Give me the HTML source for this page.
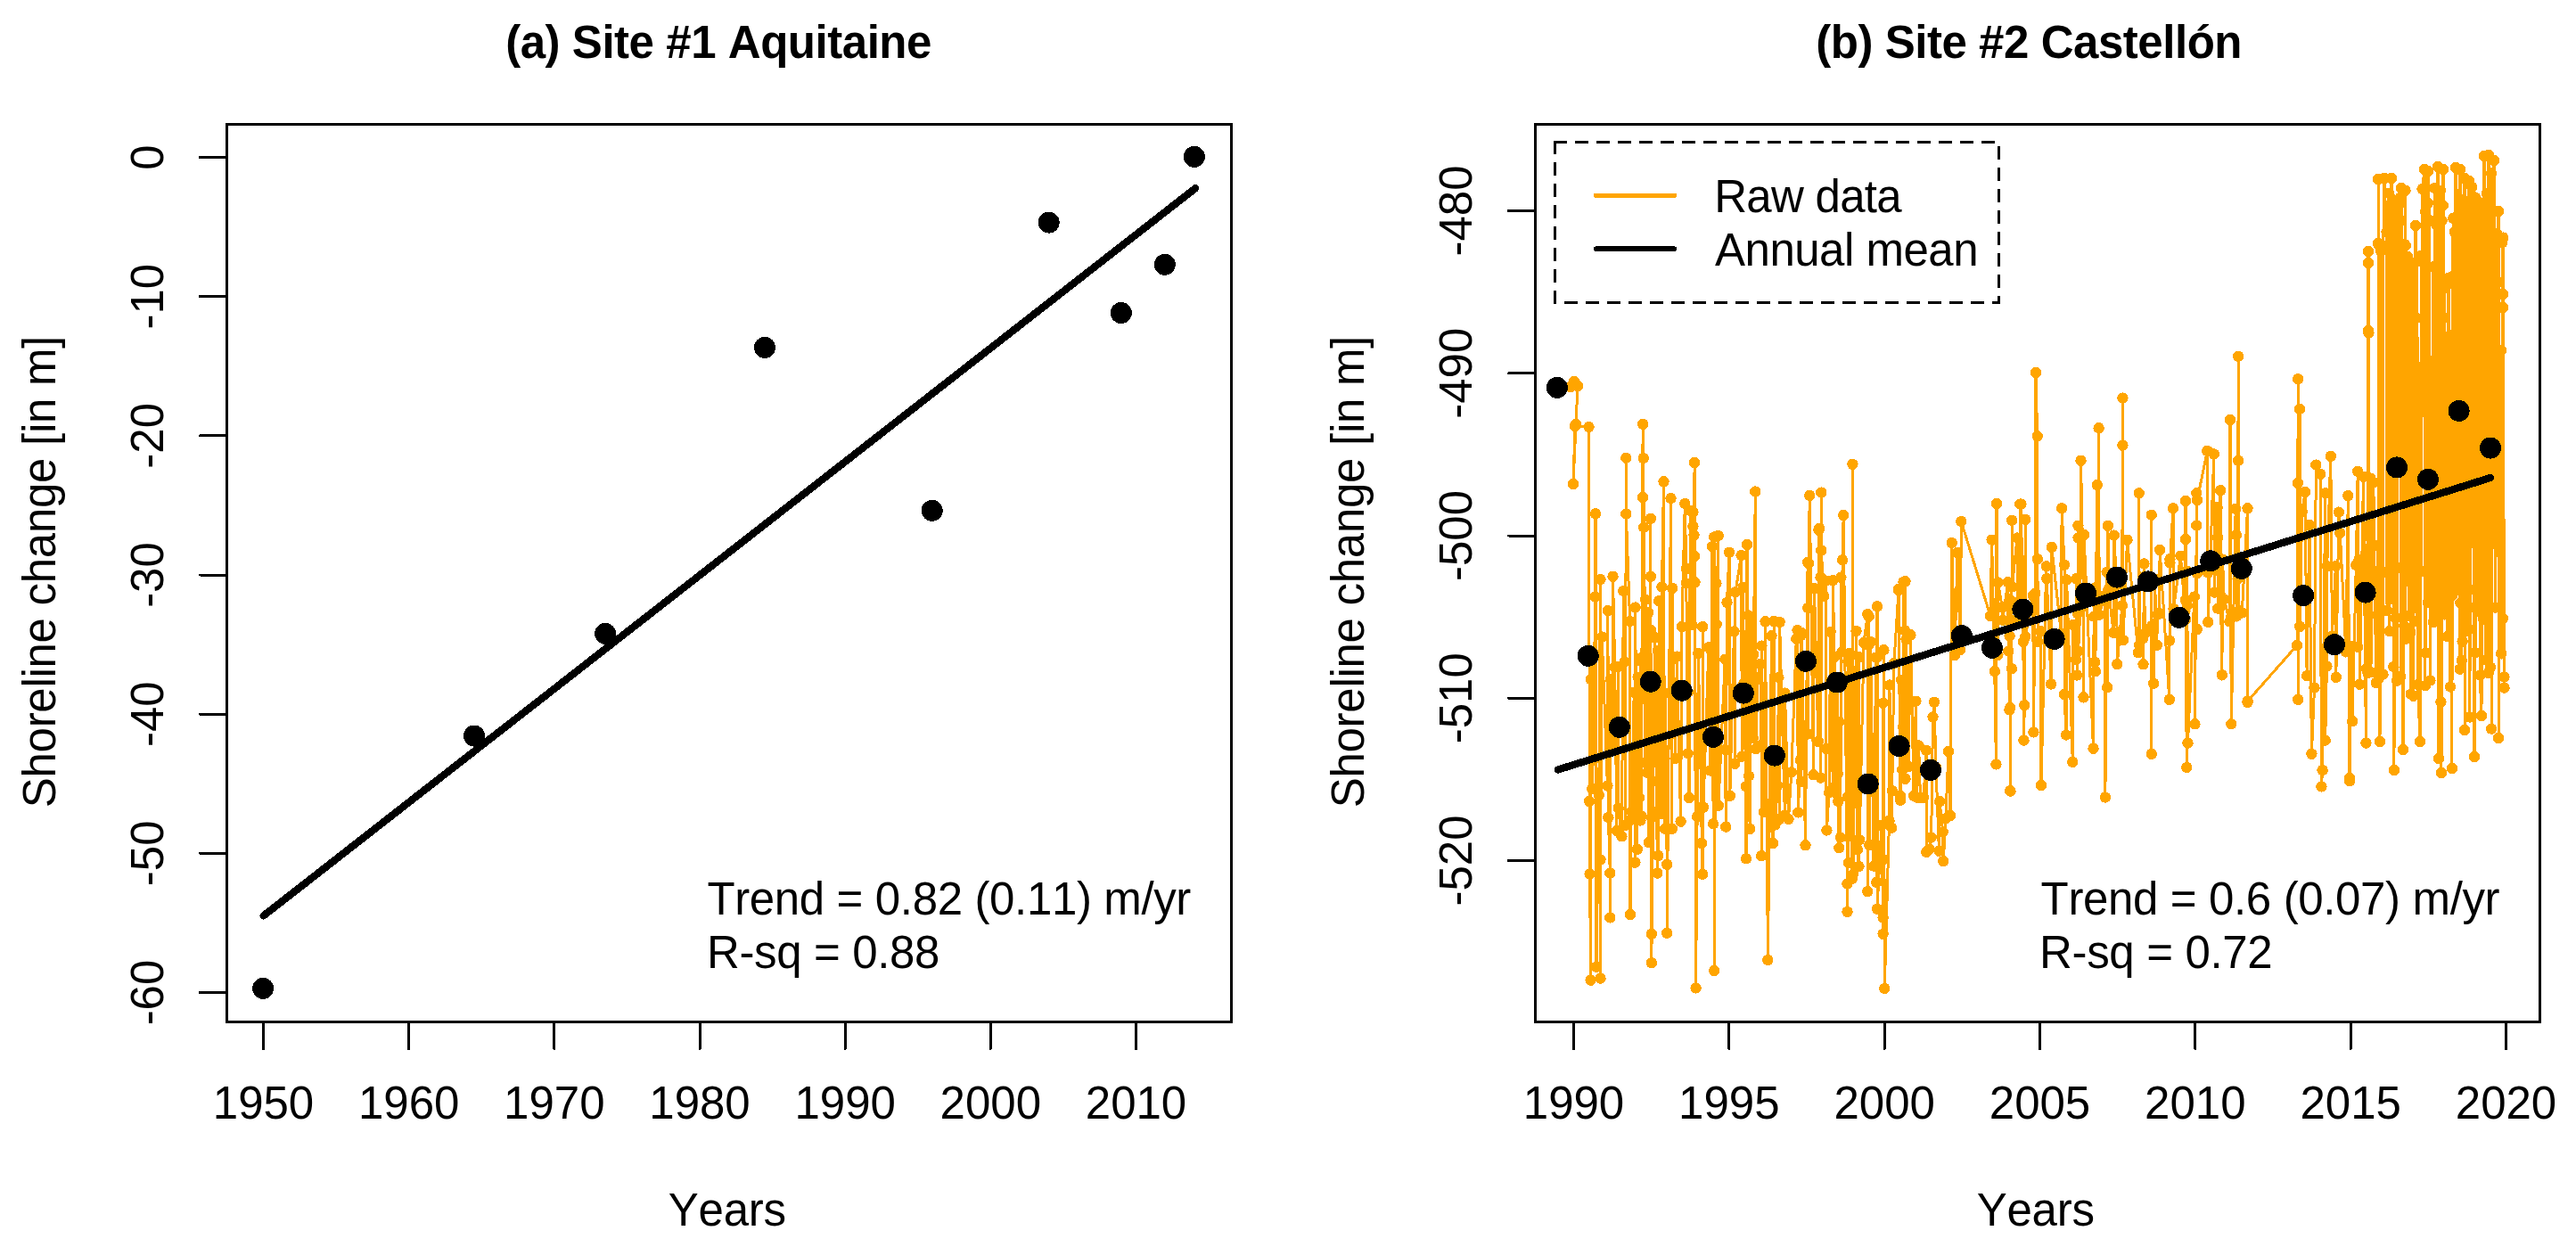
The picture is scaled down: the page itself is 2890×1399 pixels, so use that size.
<!DOCTYPE html>
<html><head><meta charset="utf-8"><style>
html,body{margin:0;padding:0;background:#fff;overflow:hidden}
svg{display:block}
line,path,circle,rect{shape-rendering:crispEdges}
text{font-family:"Liberation Sans", sans-serif;fill:#000;font-kerning:none}
</style></head><body>
<svg width="2890" height="1399" viewBox="0 0 2890 1399">
<rect width="2890" height="1399" fill="#fff"/>
<rect x="254.5" y="139.5" width="1127.0" height="1007.0" fill="none" stroke="#000" stroke-width="3"/>
<line x1="295.50" y1="1146.50" x2="295.50" y2="1176.50" stroke="#000" stroke-width="3" stroke-linecap="round" />
<text x="295.50" y="1255.20" text-anchor="middle" font-weight="normal" font-size="51">1950</text>
<line x1="458.67" y1="1146.50" x2="458.67" y2="1176.50" stroke="#000" stroke-width="3" stroke-linecap="round" />
<text x="458.67" y="1255.20" text-anchor="middle" font-weight="normal" font-size="51">1960</text>
<line x1="621.83" y1="1146.50" x2="621.83" y2="1176.50" stroke="#000" stroke-width="3" stroke-linecap="round" />
<text x="621.83" y="1255.20" text-anchor="middle" font-weight="normal" font-size="51">1970</text>
<line x1="785.00" y1="1146.50" x2="785.00" y2="1176.50" stroke="#000" stroke-width="3" stroke-linecap="round" />
<text x="785.00" y="1255.20" text-anchor="middle" font-weight="normal" font-size="51">1980</text>
<line x1="948.17" y1="1146.50" x2="948.17" y2="1176.50" stroke="#000" stroke-width="3" stroke-linecap="round" />
<text x="948.17" y="1255.20" text-anchor="middle" font-weight="normal" font-size="51">1990</text>
<line x1="1111.34" y1="1146.50" x2="1111.34" y2="1176.50" stroke="#000" stroke-width="3" stroke-linecap="round" />
<text x="1111.34" y="1255.20" text-anchor="middle" font-weight="normal" font-size="51">2000</text>
<line x1="1274.50" y1="1146.50" x2="1274.50" y2="1176.50" stroke="#000" stroke-width="3" stroke-linecap="round" />
<text x="1274.50" y="1255.20" text-anchor="middle" font-weight="normal" font-size="51">2010</text>
<line x1="254.50" y1="176.50" x2="224.50" y2="176.50" stroke="#000" stroke-width="3" stroke-linecap="round" />
<text x="183.00" y="176.50" text-anchor="middle" font-weight="normal" font-size="51" transform="rotate(-90 183.00 176.50)">0</text>
<line x1="254.50" y1="332.67" x2="224.50" y2="332.67" stroke="#000" stroke-width="3" stroke-linecap="round" />
<text x="183.00" y="332.67" text-anchor="middle" font-weight="normal" font-size="51" transform="rotate(-90 183.00 332.67)">-10</text>
<line x1="254.50" y1="488.83" x2="224.50" y2="488.83" stroke="#000" stroke-width="3" stroke-linecap="round" />
<text x="183.00" y="488.83" text-anchor="middle" font-weight="normal" font-size="51" transform="rotate(-90 183.00 488.83)">-20</text>
<line x1="254.50" y1="645.00" x2="224.50" y2="645.00" stroke="#000" stroke-width="3" stroke-linecap="round" />
<text x="183.00" y="645.00" text-anchor="middle" font-weight="normal" font-size="51" transform="rotate(-90 183.00 645.00)">-30</text>
<line x1="254.50" y1="801.17" x2="224.50" y2="801.17" stroke="#000" stroke-width="3" stroke-linecap="round" />
<text x="183.00" y="801.17" text-anchor="middle" font-weight="normal" font-size="51" transform="rotate(-90 183.00 801.17)">-40</text>
<line x1="254.50" y1="957.34" x2="224.50" y2="957.34" stroke="#000" stroke-width="3" stroke-linecap="round" />
<text x="183.00" y="957.34" text-anchor="middle" font-weight="normal" font-size="51" transform="rotate(-90 183.00 957.34)">-50</text>
<line x1="254.50" y1="1113.50" x2="224.50" y2="1113.50" stroke="#000" stroke-width="3" stroke-linecap="round" />
<text x="183.00" y="1113.50" text-anchor="middle" font-weight="normal" font-size="51" transform="rotate(-90 183.00 1113.50)">-60</text>
<line x1="295.50" y1="1027.50" x2="1341.00" y2="211.30" stroke="#000" stroke-width="8.3" stroke-linecap="round" />
<circle cx="295.1" cy="1108.9" r="12" fill="#000"/>
<circle cx="532" cy="825.6" r="12" fill="#000"/>
<circle cx="679.1" cy="710.9" r="12" fill="#000"/>
<circle cx="858" cy="389.9" r="12" fill="#000"/>
<circle cx="1045.7" cy="572.8" r="12" fill="#000"/>
<circle cx="1176.7" cy="249.6" r="12" fill="#000"/>
<circle cx="1257.8" cy="351" r="12" fill="#000"/>
<circle cx="1306.8" cy="296.8" r="12" fill="#000"/>
<circle cx="1339.9" cy="175.9" r="12" fill="#000"/>
<path d="M1762.0,434.0 L1766.0,428.0 L1770.0,433.0 L1768.0,476.0 L1765.0,543.0 L1767.0,478.0 L1782.5,479.0 L1783.0,730.0 L1783.1,898.9 L1783.6,980.7 L1784.6,1099.7 L1784.8,762.1 L1786.4,885.1 L1787.0,731.3 L1787.5,853.0 L1789.6,669.5 L1790.0,576.4 L1791.0,1084.6 L1793.8,892.0 L1795.5,650.0 L1795.5,1097.6 L1795.5,964.4 L1797.2,714.5 L1803.4,881.5 L1803.9,685.1 L1804.4,917.1 L1806.3,979.6 L1806.3,1029.4 L1806.9,762.2 L1809.3,833.9 L1809.5,646.8 L1811.7,748.5 L1813.9,932.0 L1815.6,748.0 L1815.7,906.7 L1819.4,938.3 L1821.4,663.0 L1822.7,742.6 L1823.4,926.2 L1824.3,513.7 L1824.3,576.4 L1828.6,697.0 L1829.0,1026.0 L1829.0,920.0 L1830.6,910.3 L1833.2,776.9 L1834.0,904.3 L1834.4,967.7 L1834.6,681.5 L1836.9,952.7 L1837.6,759.7 L1839.0,895.1 L1840.2,741.6 L1840.3,738.4 L1840.4,920.5 L1841.6,915.6 L1843.1,475.8 L1843.1,558.0 L1843.7,514.0 L1844.2,591.6 L1845.9,729.7 L1846.0,855.6 L1846.0,672.6 L1848.0,866.8 L1849.2,687.2 L1849.7,945.2 L1851.8,581.9 L1851.8,646.8 L1851.9,706.7 L1852.8,917.0 L1852.8,1047.8 L1852.8,1080.3 L1856.5,715.3 L1858.5,876.5 L1859.3,979.6 L1860.0,730.0 L1860.4,960.0 L1861.2,674.2 L1861.2,909.4 L1864.0,913.2 L1864.5,658.6 L1866.5,540.3 L1867.2,841.5 L1868.0,929.8 L1868.1,777.7 L1870.2,969.8 L1870.2,1046.7 L1874.5,559.1 L1875.9,929.8 L1876.2,659.8 L1877.0,738.9 L1879.5,850.8 L1881.4,736.6 L1885.6,921.7 L1886.9,703.1 L1890.3,565.0 L1891.8,638.0 L1891.8,654.4 L1893.7,845.3 L1893.9,776.6 L1895.0,895.1 L1896.4,572.8 L1898.5,701.2 L1899.4,574.3 L1899.4,590.5 L1900.5,600.3 L1901.1,519.0 L1901.1,624.0 L1901.5,653.3 L1902.6,1108.4 L1904.1,916.2 L1905.3,733.2 L1908.9,905.5 L1909.1,946.0 L1910.2,980.7 L1910.2,703.1 L1911.0,905.7 L1916.9,726.4 L1918.7,864.5 L1920.1,730.6 L1920.5,864.3 L1921.0,613.2 L1922.1,924.4 L1923.2,602.4 L1923.2,1089.0 L1925.4,654.4 L1925.7,700.3 L1927.7,601.0 L1927.9,903.9 L1935.3,739.7 L1935.7,841.1 L1936.2,927.6 L1937.5,675.9 L1940.0,619.7 L1940.8,892.8 L1945.5,708.4 L1946.3,856.9 L1947.0,664.3 L1953.5,623.0 L1954.4,848.7 L1955.7,658.7 L1956.4,766.5 L1958.9,882.4 L1959.0,963.4 L1960.0,611.0 L1961.5,742.7 L1961.9,690.5 L1961.9,870.5 L1963.2,929.9 L1964.0,699.7 L1966.7,827.9 L1967.3,734.3 L1969.3,551.5 L1969.7,840.2 L1972.3,759.9 L1974.7,744.8 L1976.1,836.0 L1976.2,960.1 L1976.4,724.6 L1979.0,911.1 L1980.5,697.2 L1983.4,1077.0 L1987.5,713.2 L1987.9,921.5 L1989.2,946.0 L1990.2,697.0 L1991.4,925.5 L1994.3,881.3 L1995.4,760.0 L1996.5,919.0 L1996.6,698.0 L2002.4,914.5 L2002.5,777.6 L2006.5,919.0 L2009.8,866.4 L2015.3,716.7 L2016.5,707.0 L2017.3,911.4 L2019.8,852.9 L2020.1,713.2 L2020.9,876.8 L2021.3,710.2 L2025.5,948.2 L2028.1,630.6 L2028.3,823.4 L2028.4,682.1 L2029.0,632.2 L2030.3,555.9 L2032.8,741.6 L2034.5,869.2 L2035.5,660.2 L2039.9,831.8 L2040.4,594.7 L2041.1,592.7 L2042.5,647.8 L2042.9,872.6 L2043.3,552.6 L2043.3,617.6 L2046.3,668.7 L2048.6,651.6 L2048.6,839.9 L2049.4,931.5 L2052.1,889.2 L2053.6,708.9 L2056.3,884.2 L2056.3,651.1 L2058.0,737.2 L2058.1,765.7 L2058.5,889.1 L2061.3,763.9 L2061.7,867.8 L2062.4,899.0 L2063.3,951.3 L2063.4,809.9 L2064.9,939.6 L2065.4,647.9 L2066.4,731.3 L2067.1,628.4 L2068.2,578.0 L2072.5,991.5 L2072.5,1022.9 L2072.7,894.2 L2073.3,741.9 L2073.9,967.9 L2075.1,732.9 L2078.0,985.6 L2078.4,520.8 L2079.1,980.6 L2082.5,707.9 L2083.4,942.8 L2083.9,953.1 L2085.5,972.0 L2085.7,737.3 L2086.2,942.3 L2091.0,721.0 L2095.3,689.2 L2095.3,1000.2 L2096.3,723.9 L2096.7,691.7 L2097.3,948.0 L2098.6,720.1 L2102.1,971.6 L2104.6,737.6 L2105.4,989.9 L2105.9,737.6 L2106.0,680.4 L2106.0,1019.6 L2110.9,925.9 L2112.6,1029.4 L2112.6,1047.8 L2112.6,788.8 L2113.1,964.3 L2113.4,729.2 L2114.3,1109.0 L2119.5,920.7 L2119.9,768.6 L2122.3,928.7 L2122.7,887.2 L2124.9,744.2 L2130.0,662.0 L2130.0,661.0 L2132.0,893.0 L2132.2,897.7 L2133.2,762.9 L2134.2,863.5 L2135.2,815.2 L2135.5,652.9 L2137.1,707.5 L2137.5,652.2 L2137.5,873.7 L2138.5,717.4 L2141.1,860.1 L2143.4,712.3 L2147.1,892.7 L2149.4,786.7 L2150.6,894.6 L2152.6,836.4 L2154.5,894.7 L2158.1,894.6 L2161.1,841.7 L2161.3,955.8 L2164.7,952.6 L2166.7,939.5 L2168.5,804.4 L2170.0,787.7 L2172.0,861.2 L2175.4,954.7 L2176.1,899.2 L2179.7,933.4 L2180.3,966.2 L2182.8,918.4 L2186.0,843.0 L2188.0,915.0 L2189.7,609.0 L2193.0,735.0 L2196.0,620.0 L2199.3,729.0 L2200.3,585.0 L2233.0,691.0 L2234.6,605.7 L2237.8,753.2 L2239.4,857.4 L2240.0,565.0 L2241.4,734.9 L2241.7,653.5 L2246.2,681.4 L2246.8,695.7 L2252.7,653.1 L2253.3,730.4 L2254.4,796.4 L2254.6,713.5 L2254.9,672.6 L2255.0,675.7 L2255.2,887.2 L2255.2,794.0 L2255.5,887.6 L2255.8,700.9 L2256.9,750.4 L2257.1,583.7 L2257.5,658.3 L2263.0,603.5 L2263.6,693.5 L2265.7,692.9 L2266.3,565.6 L2266.8,672.6 L2267.4,565.5 L2269.9,719.9 L2270.5,830.6 L2271.3,791.1 L2272.2,582.8 L2272.3,714.3 L2280.8,668.4 L2281.4,821.4 L2283.3,665.5 L2283.9,418.0 L2285.7,489.3 L2285.9,627.2 L2286.3,719.9 L2289.4,708.2 L2290.0,881.1 L2295.7,635.3 L2296.3,649.2 L2301.1,767.5 L2301.7,613.8 L2312.5,710.7 L2313.1,570.3 L2316.0,633.6 L2316.0,779.1 L2318.0,824.5 L2318.6,650.4 L2325.3,854.9 L2325.9,701.2 L2328.8,740.2 L2329.4,649.2 L2330.1,757.5 L2330.8,688.2 L2331.4,589.8 L2331.5,603.4 L2331.6,730.8 L2333.9,683.3 L2334.5,516.7 L2337.5,666.6 L2337.5,782.3 L2338.0,600.0 L2348.5,839.7 L2349.1,691.6 L2349.9,659.6 L2350.2,742.7 L2350.8,753.2 L2352.7,544.1 L2353.3,679.0 L2354.6,480.2 L2355.2,689.7 L2361.3,668.0 L2361.9,894.5 L2363.6,641.9 L2364.1,771.2 L2364.9,589.8 L2365.5,661.1 L2371.1,709.8 L2371.8,600.6 L2374.7,656.6 L2375.3,745.2 L2380.8,679.3 L2381.4,446.6 L2381.4,499.7 L2382.0,718.2 L2386.5,605.7 L2398.9,732.3 L2399.7,553.3 L2400.3,723.6 L2403.9,716.6 L2404.5,745.2 L2405.5,632.5 L2405.7,647.1 L2406.3,711.0 L2413.1,705.4 L2413.7,577.7 L2413.7,845.8 L2414.3,702.0 L2416.2,766.7 L2417.5,649.6 L2419.8,723.9 L2420.4,689.3 L2422.6,688.3 L2423.1,616.9 L2433.8,784.9 L2434.0,718.6 L2434.4,627.2 L2434.4,631.3 L2438.0,570.3 L2438.6,683.0 L2446.4,623.7 L2451.4,685.6 L2451.9,673.3 L2452.0,561.9 L2452.0,605.1 L2452.1,695.0 L2453.3,861.0 L2453.9,640.7 L2453.9,679.2 L2454.5,833.6 L2461.8,669.6 L2462.4,812.3 L2464.3,589.6 L2464.3,553.3 L2464.8,706.0 L2464.9,643.2 L2465.0,561.0 L2476.4,505.8 L2477.0,642.5 L2477.3,697.8 L2483.8,509.4 L2484.4,664.6 L2487.6,569.1 L2488.0,602.9 L2488.1,682.6 L2491.1,550.2 L2491.7,680.2 L2492.9,757.4 L2493.5,627.6 L2495.3,672.3 L2501.4,697.3 L2502.0,471.0 L2502.7,692.8 L2503.3,812.3 L2508.2,570.7 L2509.0,600.3 L2509.1,691.4 L2510.6,649.4 L2511.2,399.7 L2511.2,516.7 L2511.8,685.3 L2515.3,687.4 L2521.5,570.3 L2521.5,787.9 L2521.6,786.7 L2577.0,724.0 L2577.9,541.9 L2578.2,425.3 L2578.2,784.8 L2580.0,458.8 L2580.1,702.8 L2582.7,574.2 L2586.1,552.0 L2588.1,758.2 L2590.9,588.8 L2593.4,845.8 L2596.5,771.6 L2598.3,521.6 L2603.3,532.0 L2604.4,882.4 L2605.6,864.1 L2608.7,553.3 L2608.7,830.6 L2610.4,747.7 L2610.7,635.2 L2614.8,511.8 L2616.4,713.6 L2620.4,635.1 L2620.8,759.8 L2623.9,574.6 L2625.3,598.0 L2631.9,731.4 L2634.3,556.2 L2636.0,873.0 L2636.1,876.3 L2637.2,725.2 L2639.1,809.2 L2643.3,633.9 L2645.2,528.9 L2645.3,725.8 L2646.6,627.7 L2647.3,767.7 L2651.5,534.7 L2654.4,833.6 L2654.8,750.4 L2656.1,601.5 L2656.5,755.1 L2657.0,282.0 L2657.0,295.0 L2657.0,371.0 L2657.0,589.9 L2657.4,373.5 L2657.8,690.2 L2659.4,536.6 L2659.9,754.1 L2662.8,541.2 L2665.7,766.0 L2668.0,612.0 L2668.0,273.0 L2668.0,201.0 L2668.5,761.7 L2668.6,274.6 L2669.4,682.2 L2670.0,832.0 L2671.0,281.6 L2673.5,756.6 L2673.7,276.1 L2675.0,200.0 L2677.5,260.3 L2677.6,641.9 L2678.1,685.1 L2679.9,216.7 L2680.0,232.0 L2680.7,708.2 L2681.7,291.2 L2682.9,672.2 L2683.0,200.0 L2684.2,291.5 L2685.4,748.1 L2686.0,864.0 L2686.4,224.6 L2687.5,693.1 L2688.2,260.1 L2688.9,230.9 L2689.0,763.6 L2689.2,636.9 L2692.0,229.0 L2692.9,221.7 L2693.4,759.0 L2694.0,211.0 L2694.0,247.6 L2696.0,841.0 L2697.2,702.0 L2697.8,274.1 L2698.3,717.2 L2698.5,213.7 L2698.8,275.5 L2701.0,288.0 L2702.1,691.3 L2703.5,295.1 L2704.3,709.5 L2704.4,367.3 L2704.7,778.7 L2706.4,300.1 L2707.6,780.8 L2710.0,253.0 L2711.0,356.8 L2711.2,697.1 L2711.9,293.2 L2712.5,768.0 L2715.0,832.0 L2716.3,286.9 L2716.7,641.2 L2717.5,212.0 L2720.0,190.0 L2721.0,769.3 L2721.2,237.8 L2721.8,732.4 L2723.8,227.8 L2723.9,675.9 L2724.0,192.0 L2725.8,247.2 L2726.5,763.5 L2730.0,299.2 L2730.0,698.2 L2731.4,211.1 L2732.6,694.8 L2733.4,251.9 L2735.0,187.0 L2735.3,696.5 L2736.0,851.0 L2737.9,213.8 L2738.4,787.6 L2739.0,867.0 L2739.6,247.5 L2740.7,651.6 L2740.8,230.6 L2741.0,190.0 L2742.1,356.7 L2742.4,689.4 L2742.6,322.8 L2745.9,714.2 L2747.0,312.0 L2747.4,317.8 L2749.0,770.5 L2750.8,376.2 L2750.9,668.1 L2751.0,862.0 L2751.1,310.3 L2752.3,244.9 L2752.7,663.8 L2753.9,260.2 L2754.9,654.9 L2755.0,188.0 L2757.3,241.4 L2757.9,648.4 L2758.3,270.1 L2759.7,750.7 L2760.0,190.0 L2760.1,264.0 L2760.3,676.3 L2761.4,259.6 L2761.7,741.0 L2761.7,224.2 L2762.4,292.4 L2762.6,719.8 L2765.0,200.0 L2765.0,819.0 L2766.0,661.3 L2766.3,239.8 L2767.9,708.3 L2767.9,226.0 L2768.9,298.1 L2769.3,705.4 L2769.6,680.4 L2770.0,203.0 L2770.1,233.3 L2770.8,804.5 L2773.3,209.9 L2776.0,849.0 L2776.5,661.5 L2776.8,221.4 L2777.0,732.4 L2778.0,224.0 L2778.3,270.6 L2779.5,686.0 L2781.8,233.4 L2781.9,262.7 L2782.2,757.6 L2784.0,803.0 L2784.7,228.0 L2785.0,679.9 L2786.1,694.6 L2786.1,282.2 L2787.0,175.0 L2787.8,288.9 L2788.9,740.3 L2790.0,217.0 L2790.8,665.4 L2791.4,219.2 L2791.7,755.0 L2792.0,174.0 L2793.7,283.0 L2794.0,748.7 L2795.0,194.6 L2795.1,817.6 L2798.0,180.0 L2798.6,287.7 L2799.9,681.6 L2800.8,261.9 L2802.8,316.5 L2803.0,237.0 L2803.0,828.0 L2806.0,393.0 L2806.2,733.4 L2807.4,272.0 L2807.9,693.9 L2808.0,330.0 L2808.0,345.0 L2808.2,266.6 L2809.5,771.6 L2809.5,759.5" fill="none" stroke="#FFA500" stroke-width="3" stroke-linejoin="round" stroke-linecap="round"/>
<g fill="#FFA500"><circle cx="1762.0" cy="434.0" r="6.2"/><circle cx="1766.0" cy="428.0" r="6.2"/><circle cx="1770.0" cy="433.0" r="6.2"/><circle cx="1768.0" cy="476.0" r="6.2"/><circle cx="1765.0" cy="543.0" r="6.2"/><circle cx="1767.0" cy="478.0" r="6.2"/><circle cx="1782.5" cy="479.0" r="6.2"/><circle cx="1783.0" cy="730.0" r="6.2"/><circle cx="1783.1" cy="898.9" r="6.2"/><circle cx="1783.6" cy="980.7" r="6.2"/><circle cx="1784.6" cy="1099.7" r="6.2"/><circle cx="1784.8" cy="762.1" r="6.2"/><circle cx="1786.4" cy="885.1" r="6.2"/><circle cx="1787.0" cy="731.3" r="6.2"/><circle cx="1787.5" cy="853.0" r="6.2"/><circle cx="1789.6" cy="669.5" r="6.2"/><circle cx="1790.0" cy="576.4" r="6.2"/><circle cx="1791.0" cy="1084.6" r="6.2"/><circle cx="1793.8" cy="892.0" r="6.2"/><circle cx="1795.5" cy="650.0" r="6.2"/><circle cx="1795.5" cy="1097.6" r="6.2"/><circle cx="1795.5" cy="964.4" r="6.2"/><circle cx="1797.2" cy="714.5" r="6.2"/><circle cx="1803.4" cy="881.5" r="6.2"/><circle cx="1803.9" cy="685.1" r="6.2"/><circle cx="1804.4" cy="917.1" r="6.2"/><circle cx="1806.3" cy="979.6" r="6.2"/><circle cx="1806.3" cy="1029.4" r="6.2"/><circle cx="1806.9" cy="762.2" r="6.2"/><circle cx="1809.3" cy="833.9" r="6.2"/><circle cx="1809.5" cy="646.8" r="6.2"/><circle cx="1811.7" cy="748.5" r="6.2"/><circle cx="1813.9" cy="932.0" r="6.2"/><circle cx="1815.6" cy="748.0" r="6.2"/><circle cx="1815.7" cy="906.7" r="6.2"/><circle cx="1819.4" cy="938.3" r="6.2"/><circle cx="1821.4" cy="663.0" r="6.2"/><circle cx="1822.7" cy="742.6" r="6.2"/><circle cx="1823.4" cy="926.2" r="6.2"/><circle cx="1824.3" cy="513.7" r="6.2"/><circle cx="1824.3" cy="576.4" r="6.2"/><circle cx="1828.6" cy="697.0" r="6.2"/><circle cx="1829.0" cy="1026.0" r="6.2"/><circle cx="1829.0" cy="920.0" r="6.2"/><circle cx="1830.6" cy="910.3" r="6.2"/><circle cx="1833.2" cy="776.9" r="6.2"/><circle cx="1834.0" cy="904.3" r="6.2"/><circle cx="1834.4" cy="967.7" r="6.2"/><circle cx="1834.6" cy="681.5" r="6.2"/><circle cx="1836.9" cy="952.7" r="6.2"/><circle cx="1837.6" cy="759.7" r="6.2"/><circle cx="1839.0" cy="895.1" r="6.2"/><circle cx="1840.2" cy="741.6" r="6.2"/><circle cx="1840.3" cy="738.4" r="6.2"/><circle cx="1840.4" cy="920.5" r="6.2"/><circle cx="1841.6" cy="915.6" r="6.2"/><circle cx="1843.1" cy="475.8" r="6.2"/><circle cx="1843.1" cy="558.0" r="6.2"/><circle cx="1843.7" cy="514.0" r="6.2"/><circle cx="1844.2" cy="591.6" r="6.2"/><circle cx="1845.9" cy="729.7" r="6.2"/><circle cx="1846.0" cy="855.6" r="6.2"/><circle cx="1846.0" cy="672.6" r="6.2"/><circle cx="1848.0" cy="866.8" r="6.2"/><circle cx="1849.2" cy="687.2" r="6.2"/><circle cx="1849.7" cy="945.2" r="6.2"/><circle cx="1851.8" cy="581.9" r="6.2"/><circle cx="1851.8" cy="646.8" r="6.2"/><circle cx="1851.9" cy="706.7" r="6.2"/><circle cx="1852.8" cy="917.0" r="6.2"/><circle cx="1852.8" cy="1047.8" r="6.2"/><circle cx="1852.8" cy="1080.3" r="6.2"/><circle cx="1856.5" cy="715.3" r="6.2"/><circle cx="1858.5" cy="876.5" r="6.2"/><circle cx="1859.3" cy="979.6" r="6.2"/><circle cx="1860.0" cy="730.0" r="6.2"/><circle cx="1860.4" cy="960.0" r="6.2"/><circle cx="1861.2" cy="674.2" r="6.2"/><circle cx="1861.2" cy="909.4" r="6.2"/><circle cx="1864.0" cy="913.2" r="6.2"/><circle cx="1864.5" cy="658.6" r="6.2"/><circle cx="1866.5" cy="540.3" r="6.2"/><circle cx="1867.2" cy="841.5" r="6.2"/><circle cx="1868.0" cy="929.8" r="6.2"/><circle cx="1868.1" cy="777.7" r="6.2"/><circle cx="1870.2" cy="969.8" r="6.2"/><circle cx="1870.2" cy="1046.7" r="6.2"/><circle cx="1874.5" cy="559.1" r="6.2"/><circle cx="1875.9" cy="929.8" r="6.2"/><circle cx="1876.2" cy="659.8" r="6.2"/><circle cx="1877.0" cy="738.9" r="6.2"/><circle cx="1879.5" cy="850.8" r="6.2"/><circle cx="1881.4" cy="736.6" r="6.2"/><circle cx="1885.6" cy="921.7" r="6.2"/><circle cx="1886.9" cy="703.1" r="6.2"/><circle cx="1890.3" cy="565.0" r="6.2"/><circle cx="1891.8" cy="638.0" r="6.2"/><circle cx="1891.8" cy="654.4" r="6.2"/><circle cx="1893.7" cy="845.3" r="6.2"/><circle cx="1893.9" cy="776.6" r="6.2"/><circle cx="1895.0" cy="895.1" r="6.2"/><circle cx="1896.4" cy="572.8" r="6.2"/><circle cx="1898.5" cy="701.2" r="6.2"/><circle cx="1899.4" cy="574.3" r="6.2"/><circle cx="1899.4" cy="590.5" r="6.2"/><circle cx="1900.5" cy="600.3" r="6.2"/><circle cx="1901.1" cy="519.0" r="6.2"/><circle cx="1901.1" cy="624.0" r="6.2"/><circle cx="1901.5" cy="653.3" r="6.2"/><circle cx="1902.6" cy="1108.4" r="6.2"/><circle cx="1904.1" cy="916.2" r="6.2"/><circle cx="1905.3" cy="733.2" r="6.2"/><circle cx="1908.9" cy="905.5" r="6.2"/><circle cx="1909.1" cy="946.0" r="6.2"/><circle cx="1910.2" cy="980.7" r="6.2"/><circle cx="1910.2" cy="703.1" r="6.2"/><circle cx="1911.0" cy="905.7" r="6.2"/><circle cx="1916.9" cy="726.4" r="6.2"/><circle cx="1918.7" cy="864.5" r="6.2"/><circle cx="1920.1" cy="730.6" r="6.2"/><circle cx="1920.5" cy="864.3" r="6.2"/><circle cx="1921.0" cy="613.2" r="6.2"/><circle cx="1922.1" cy="924.4" r="6.2"/><circle cx="1923.2" cy="602.4" r="6.2"/><circle cx="1923.2" cy="1089.0" r="6.2"/><circle cx="1925.4" cy="654.4" r="6.2"/><circle cx="1925.7" cy="700.3" r="6.2"/><circle cx="1927.7" cy="601.0" r="6.2"/><circle cx="1927.9" cy="903.9" r="6.2"/><circle cx="1935.3" cy="739.7" r="6.2"/><circle cx="1935.7" cy="841.1" r="6.2"/><circle cx="1936.2" cy="927.6" r="6.2"/><circle cx="1937.5" cy="675.9" r="6.2"/><circle cx="1940.0" cy="619.7" r="6.2"/><circle cx="1940.8" cy="892.8" r="6.2"/><circle cx="1945.5" cy="708.4" r="6.2"/><circle cx="1946.3" cy="856.9" r="6.2"/><circle cx="1947.0" cy="664.3" r="6.2"/><circle cx="1953.5" cy="623.0" r="6.2"/><circle cx="1954.4" cy="848.7" r="6.2"/><circle cx="1955.7" cy="658.7" r="6.2"/><circle cx="1956.4" cy="766.5" r="6.2"/><circle cx="1958.9" cy="882.4" r="6.2"/><circle cx="1959.0" cy="963.4" r="6.2"/><circle cx="1960.0" cy="611.0" r="6.2"/><circle cx="1961.5" cy="742.7" r="6.2"/><circle cx="1961.9" cy="690.5" r="6.2"/><circle cx="1961.9" cy="870.5" r="6.2"/><circle cx="1963.2" cy="929.9" r="6.2"/><circle cx="1964.0" cy="699.7" r="6.2"/><circle cx="1966.7" cy="827.9" r="6.2"/><circle cx="1967.3" cy="734.3" r="6.2"/><circle cx="1969.3" cy="551.5" r="6.2"/><circle cx="1969.7" cy="840.2" r="6.2"/><circle cx="1972.3" cy="759.9" r="6.2"/><circle cx="1974.7" cy="744.8" r="6.2"/><circle cx="1976.1" cy="836.0" r="6.2"/><circle cx="1976.2" cy="960.1" r="6.2"/><circle cx="1976.4" cy="724.6" r="6.2"/><circle cx="1979.0" cy="911.1" r="6.2"/><circle cx="1980.5" cy="697.2" r="6.2"/><circle cx="1983.4" cy="1077.0" r="6.2"/><circle cx="1987.5" cy="713.2" r="6.2"/><circle cx="1987.9" cy="921.5" r="6.2"/><circle cx="1989.2" cy="946.0" r="6.2"/><circle cx="1990.2" cy="697.0" r="6.2"/><circle cx="1991.4" cy="925.5" r="6.2"/><circle cx="1994.3" cy="881.3" r="6.2"/><circle cx="1995.4" cy="760.0" r="6.2"/><circle cx="1996.5" cy="919.0" r="6.2"/><circle cx="1996.6" cy="698.0" r="6.2"/><circle cx="2002.4" cy="914.5" r="6.2"/><circle cx="2002.5" cy="777.6" r="6.2"/><circle cx="2006.5" cy="919.0" r="6.2"/><circle cx="2009.8" cy="866.4" r="6.2"/><circle cx="2015.3" cy="716.7" r="6.2"/><circle cx="2016.5" cy="707.0" r="6.2"/><circle cx="2017.3" cy="911.4" r="6.2"/><circle cx="2019.8" cy="852.9" r="6.2"/><circle cx="2020.1" cy="713.2" r="6.2"/><circle cx="2020.9" cy="876.8" r="6.2"/><circle cx="2021.3" cy="710.2" r="6.2"/><circle cx="2025.5" cy="948.2" r="6.2"/><circle cx="2028.1" cy="630.6" r="6.2"/><circle cx="2028.3" cy="823.4" r="6.2"/><circle cx="2028.4" cy="682.1" r="6.2"/><circle cx="2029.0" cy="632.2" r="6.2"/><circle cx="2030.3" cy="555.9" r="6.2"/><circle cx="2032.8" cy="741.6" r="6.2"/><circle cx="2034.5" cy="869.2" r="6.2"/><circle cx="2035.5" cy="660.2" r="6.2"/><circle cx="2039.9" cy="831.8" r="6.2"/><circle cx="2040.4" cy="594.7" r="6.2"/><circle cx="2041.1" cy="592.7" r="6.2"/><circle cx="2042.5" cy="647.8" r="6.2"/><circle cx="2042.9" cy="872.6" r="6.2"/><circle cx="2043.3" cy="552.6" r="6.2"/><circle cx="2043.3" cy="617.6" r="6.2"/><circle cx="2046.3" cy="668.7" r="6.2"/><circle cx="2048.6" cy="651.6" r="6.2"/><circle cx="2048.6" cy="839.9" r="6.2"/><circle cx="2049.4" cy="931.5" r="6.2"/><circle cx="2052.1" cy="889.2" r="6.2"/><circle cx="2053.6" cy="708.9" r="6.2"/><circle cx="2056.3" cy="884.2" r="6.2"/><circle cx="2056.3" cy="651.1" r="6.2"/><circle cx="2058.0" cy="737.2" r="6.2"/><circle cx="2058.1" cy="765.7" r="6.2"/><circle cx="2058.5" cy="889.1" r="6.2"/><circle cx="2061.3" cy="763.9" r="6.2"/><circle cx="2061.7" cy="867.8" r="6.2"/><circle cx="2062.4" cy="899.0" r="6.2"/><circle cx="2063.3" cy="951.3" r="6.2"/><circle cx="2063.4" cy="809.9" r="6.2"/><circle cx="2064.9" cy="939.6" r="6.2"/><circle cx="2065.4" cy="647.9" r="6.2"/><circle cx="2066.4" cy="731.3" r="6.2"/><circle cx="2067.1" cy="628.4" r="6.2"/><circle cx="2068.2" cy="578.0" r="6.2"/><circle cx="2072.5" cy="991.5" r="6.2"/><circle cx="2072.5" cy="1022.9" r="6.2"/><circle cx="2072.7" cy="894.2" r="6.2"/><circle cx="2073.3" cy="741.9" r="6.2"/><circle cx="2073.9" cy="967.9" r="6.2"/><circle cx="2075.1" cy="732.9" r="6.2"/><circle cx="2078.0" cy="985.6" r="6.2"/><circle cx="2078.4" cy="520.8" r="6.2"/><circle cx="2079.1" cy="980.6" r="6.2"/><circle cx="2082.5" cy="707.9" r="6.2"/><circle cx="2083.4" cy="942.8" r="6.2"/><circle cx="2083.9" cy="953.1" r="6.2"/><circle cx="2085.5" cy="972.0" r="6.2"/><circle cx="2085.7" cy="737.3" r="6.2"/><circle cx="2086.2" cy="942.3" r="6.2"/><circle cx="2091.0" cy="721.0" r="6.2"/><circle cx="2095.3" cy="689.2" r="6.2"/><circle cx="2095.3" cy="1000.2" r="6.2"/><circle cx="2096.3" cy="723.9" r="6.2"/><circle cx="2096.7" cy="691.7" r="6.2"/><circle cx="2097.3" cy="948.0" r="6.2"/><circle cx="2098.6" cy="720.1" r="6.2"/><circle cx="2102.1" cy="971.6" r="6.2"/><circle cx="2104.6" cy="737.6" r="6.2"/><circle cx="2105.4" cy="989.9" r="6.2"/><circle cx="2105.9" cy="737.6" r="6.2"/><circle cx="2106.0" cy="680.4" r="6.2"/><circle cx="2106.0" cy="1019.6" r="6.2"/><circle cx="2110.9" cy="925.9" r="6.2"/><circle cx="2112.6" cy="1029.4" r="6.2"/><circle cx="2112.6" cy="1047.8" r="6.2"/><circle cx="2112.6" cy="788.8" r="6.2"/><circle cx="2113.1" cy="964.3" r="6.2"/><circle cx="2113.4" cy="729.2" r="6.2"/><circle cx="2114.3" cy="1109.0" r="6.2"/><circle cx="2119.5" cy="920.7" r="6.2"/><circle cx="2119.9" cy="768.6" r="6.2"/><circle cx="2122.3" cy="928.7" r="6.2"/><circle cx="2122.7" cy="887.2" r="6.2"/><circle cx="2124.9" cy="744.2" r="6.2"/><circle cx="2130.0" cy="662.0" r="6.2"/><circle cx="2130.0" cy="661.0" r="6.2"/><circle cx="2132.0" cy="893.0" r="6.2"/><circle cx="2132.2" cy="897.7" r="6.2"/><circle cx="2133.2" cy="762.9" r="6.2"/><circle cx="2134.2" cy="863.5" r="6.2"/><circle cx="2135.2" cy="815.2" r="6.2"/><circle cx="2135.5" cy="652.9" r="6.2"/><circle cx="2137.1" cy="707.5" r="6.2"/><circle cx="2137.5" cy="652.2" r="6.2"/><circle cx="2137.5" cy="873.7" r="6.2"/><circle cx="2138.5" cy="717.4" r="6.2"/><circle cx="2141.1" cy="860.1" r="6.2"/><circle cx="2143.4" cy="712.3" r="6.2"/><circle cx="2147.1" cy="892.7" r="6.2"/><circle cx="2149.4" cy="786.7" r="6.2"/><circle cx="2150.6" cy="894.6" r="6.2"/><circle cx="2152.6" cy="836.4" r="6.2"/><circle cx="2154.5" cy="894.7" r="6.2"/><circle cx="2158.1" cy="894.6" r="6.2"/><circle cx="2161.1" cy="841.7" r="6.2"/><circle cx="2161.3" cy="955.8" r="6.2"/><circle cx="2164.7" cy="952.6" r="6.2"/><circle cx="2166.7" cy="939.5" r="6.2"/><circle cx="2168.5" cy="804.4" r="6.2"/><circle cx="2170.0" cy="787.7" r="6.2"/><circle cx="2172.0" cy="861.2" r="6.2"/><circle cx="2175.4" cy="954.7" r="6.2"/><circle cx="2176.1" cy="899.2" r="6.2"/><circle cx="2179.7" cy="933.4" r="6.2"/><circle cx="2180.3" cy="966.2" r="6.2"/><circle cx="2182.8" cy="918.4" r="6.2"/><circle cx="2186.0" cy="843.0" r="6.2"/><circle cx="2188.0" cy="915.0" r="6.2"/><circle cx="2189.7" cy="609.0" r="6.2"/><circle cx="2193.0" cy="735.0" r="6.2"/><circle cx="2196.0" cy="620.0" r="6.2"/><circle cx="2199.3" cy="729.0" r="6.2"/><circle cx="2200.3" cy="585.0" r="6.2"/><circle cx="2233.0" cy="691.0" r="6.2"/><circle cx="2234.6" cy="605.7" r="6.2"/><circle cx="2237.8" cy="753.2" r="6.2"/><circle cx="2239.4" cy="857.4" r="6.2"/><circle cx="2240.0" cy="565.0" r="6.2"/><circle cx="2241.4" cy="734.9" r="6.2"/><circle cx="2241.7" cy="653.5" r="6.2"/><circle cx="2246.2" cy="681.4" r="6.2"/><circle cx="2246.8" cy="695.7" r="6.2"/><circle cx="2252.7" cy="653.1" r="6.2"/><circle cx="2253.3" cy="730.4" r="6.2"/><circle cx="2254.4" cy="796.4" r="6.2"/><circle cx="2254.6" cy="713.5" r="6.2"/><circle cx="2254.9" cy="672.6" r="6.2"/><circle cx="2255.0" cy="675.7" r="6.2"/><circle cx="2255.2" cy="887.2" r="6.2"/><circle cx="2255.2" cy="794.0" r="6.2"/><circle cx="2255.5" cy="887.6" r="6.2"/><circle cx="2255.8" cy="700.9" r="6.2"/><circle cx="2256.9" cy="750.4" r="6.2"/><circle cx="2257.1" cy="583.7" r="6.2"/><circle cx="2257.5" cy="658.3" r="6.2"/><circle cx="2263.0" cy="603.5" r="6.2"/><circle cx="2263.6" cy="693.5" r="6.2"/><circle cx="2265.7" cy="692.9" r="6.2"/><circle cx="2266.3" cy="565.6" r="6.2"/><circle cx="2266.8" cy="672.6" r="6.2"/><circle cx="2267.4" cy="565.5" r="6.2"/><circle cx="2269.9" cy="719.9" r="6.2"/><circle cx="2270.5" cy="830.6" r="6.2"/><circle cx="2271.3" cy="791.1" r="6.2"/><circle cx="2272.2" cy="582.8" r="6.2"/><circle cx="2272.3" cy="714.3" r="6.2"/><circle cx="2280.8" cy="668.4" r="6.2"/><circle cx="2281.4" cy="821.4" r="6.2"/><circle cx="2283.3" cy="665.5" r="6.2"/><circle cx="2283.9" cy="418.0" r="6.2"/><circle cx="2285.7" cy="489.3" r="6.2"/><circle cx="2285.9" cy="627.2" r="6.2"/><circle cx="2286.3" cy="719.9" r="6.2"/><circle cx="2289.4" cy="708.2" r="6.2"/><circle cx="2290.0" cy="881.1" r="6.2"/><circle cx="2295.7" cy="635.3" r="6.2"/><circle cx="2296.3" cy="649.2" r="6.2"/><circle cx="2301.1" cy="767.5" r="6.2"/><circle cx="2301.7" cy="613.8" r="6.2"/><circle cx="2312.5" cy="710.7" r="6.2"/><circle cx="2313.1" cy="570.3" r="6.2"/><circle cx="2316.0" cy="633.6" r="6.2"/><circle cx="2316.0" cy="779.1" r="6.2"/><circle cx="2318.0" cy="824.5" r="6.2"/><circle cx="2318.6" cy="650.4" r="6.2"/><circle cx="2325.3" cy="854.9" r="6.2"/><circle cx="2325.9" cy="701.2" r="6.2"/><circle cx="2328.8" cy="740.2" r="6.2"/><circle cx="2329.4" cy="649.2" r="6.2"/><circle cx="2330.1" cy="757.5" r="6.2"/><circle cx="2330.8" cy="688.2" r="6.2"/><circle cx="2331.4" cy="589.8" r="6.2"/><circle cx="2331.5" cy="603.4" r="6.2"/><circle cx="2331.6" cy="730.8" r="6.2"/><circle cx="2333.9" cy="683.3" r="6.2"/><circle cx="2334.5" cy="516.7" r="6.2"/><circle cx="2337.5" cy="666.6" r="6.2"/><circle cx="2337.5" cy="782.3" r="6.2"/><circle cx="2338.0" cy="600.0" r="6.2"/><circle cx="2348.5" cy="839.7" r="6.2"/><circle cx="2349.1" cy="691.6" r="6.2"/><circle cx="2349.9" cy="659.6" r="6.2"/><circle cx="2350.2" cy="742.7" r="6.2"/><circle cx="2350.8" cy="753.2" r="6.2"/><circle cx="2352.7" cy="544.1" r="6.2"/><circle cx="2353.3" cy="679.0" r="6.2"/><circle cx="2354.6" cy="480.2" r="6.2"/><circle cx="2355.2" cy="689.7" r="6.2"/><circle cx="2361.3" cy="668.0" r="6.2"/><circle cx="2361.9" cy="894.5" r="6.2"/><circle cx="2363.6" cy="641.9" r="6.2"/><circle cx="2364.1" cy="771.2" r="6.2"/><circle cx="2364.9" cy="589.8" r="6.2"/><circle cx="2365.5" cy="661.1" r="6.2"/><circle cx="2371.1" cy="709.8" r="6.2"/><circle cx="2371.8" cy="600.6" r="6.2"/><circle cx="2374.7" cy="656.6" r="6.2"/><circle cx="2375.3" cy="745.2" r="6.2"/><circle cx="2380.8" cy="679.3" r="6.2"/><circle cx="2381.4" cy="446.6" r="6.2"/><circle cx="2381.4" cy="499.7" r="6.2"/><circle cx="2382.0" cy="718.2" r="6.2"/><circle cx="2386.5" cy="605.7" r="6.2"/><circle cx="2398.9" cy="732.3" r="6.2"/><circle cx="2399.7" cy="553.3" r="6.2"/><circle cx="2400.3" cy="723.6" r="6.2"/><circle cx="2403.9" cy="716.6" r="6.2"/><circle cx="2404.5" cy="745.2" r="6.2"/><circle cx="2405.5" cy="632.5" r="6.2"/><circle cx="2405.7" cy="647.1" r="6.2"/><circle cx="2406.3" cy="711.0" r="6.2"/><circle cx="2413.1" cy="705.4" r="6.2"/><circle cx="2413.7" cy="577.7" r="6.2"/><circle cx="2413.7" cy="845.8" r="6.2"/><circle cx="2414.3" cy="702.0" r="6.2"/><circle cx="2416.2" cy="766.7" r="6.2"/><circle cx="2417.5" cy="649.6" r="6.2"/><circle cx="2419.8" cy="723.9" r="6.2"/><circle cx="2420.4" cy="689.3" r="6.2"/><circle cx="2422.6" cy="688.3" r="6.2"/><circle cx="2423.1" cy="616.9" r="6.2"/><circle cx="2433.8" cy="784.9" r="6.2"/><circle cx="2434.0" cy="718.6" r="6.2"/><circle cx="2434.4" cy="627.2" r="6.2"/><circle cx="2434.4" cy="631.3" r="6.2"/><circle cx="2438.0" cy="570.3" r="6.2"/><circle cx="2438.6" cy="683.0" r="6.2"/><circle cx="2446.4" cy="623.7" r="6.2"/><circle cx="2451.4" cy="685.6" r="6.2"/><circle cx="2451.9" cy="673.3" r="6.2"/><circle cx="2452.0" cy="561.9" r="6.2"/><circle cx="2452.0" cy="605.1" r="6.2"/><circle cx="2452.1" cy="695.0" r="6.2"/><circle cx="2453.3" cy="861.0" r="6.2"/><circle cx="2453.9" cy="640.7" r="6.2"/><circle cx="2453.9" cy="679.2" r="6.2"/><circle cx="2454.5" cy="833.6" r="6.2"/><circle cx="2461.8" cy="669.6" r="6.2"/><circle cx="2462.4" cy="812.3" r="6.2"/><circle cx="2464.3" cy="589.6" r="6.2"/><circle cx="2464.3" cy="553.3" r="6.2"/><circle cx="2464.8" cy="706.0" r="6.2"/><circle cx="2464.9" cy="643.2" r="6.2"/><circle cx="2465.0" cy="561.0" r="6.2"/><circle cx="2476.4" cy="505.8" r="6.2"/><circle cx="2477.0" cy="642.5" r="6.2"/><circle cx="2477.3" cy="697.8" r="6.2"/><circle cx="2483.8" cy="509.4" r="6.2"/><circle cx="2484.4" cy="664.6" r="6.2"/><circle cx="2487.6" cy="569.1" r="6.2"/><circle cx="2488.0" cy="602.9" r="6.2"/><circle cx="2488.1" cy="682.6" r="6.2"/><circle cx="2491.1" cy="550.2" r="6.2"/><circle cx="2491.7" cy="680.2" r="6.2"/><circle cx="2492.9" cy="757.4" r="6.2"/><circle cx="2493.5" cy="627.6" r="6.2"/><circle cx="2495.3" cy="672.3" r="6.2"/><circle cx="2501.4" cy="697.3" r="6.2"/><circle cx="2502.0" cy="471.0" r="6.2"/><circle cx="2502.7" cy="692.8" r="6.2"/><circle cx="2503.3" cy="812.3" r="6.2"/><circle cx="2508.2" cy="570.7" r="6.2"/><circle cx="2509.0" cy="600.3" r="6.2"/><circle cx="2509.1" cy="691.4" r="6.2"/><circle cx="2510.6" cy="649.4" r="6.2"/><circle cx="2511.2" cy="399.7" r="6.2"/><circle cx="2511.2" cy="516.7" r="6.2"/><circle cx="2511.8" cy="685.3" r="6.2"/><circle cx="2515.3" cy="687.4" r="6.2"/><circle cx="2521.5" cy="570.3" r="6.2"/><circle cx="2521.5" cy="787.9" r="6.2"/><circle cx="2521.6" cy="786.7" r="6.2"/><circle cx="2577.0" cy="724.0" r="6.2"/><circle cx="2577.9" cy="541.9" r="6.2"/><circle cx="2578.2" cy="425.3" r="6.2"/><circle cx="2578.2" cy="784.8" r="6.2"/><circle cx="2580.0" cy="458.8" r="6.2"/><circle cx="2580.1" cy="702.8" r="6.2"/><circle cx="2582.7" cy="574.2" r="6.2"/><circle cx="2586.1" cy="552.0" r="6.2"/><circle cx="2588.1" cy="758.2" r="6.2"/><circle cx="2590.9" cy="588.8" r="6.2"/><circle cx="2593.4" cy="845.8" r="6.2"/><circle cx="2596.5" cy="771.6" r="6.2"/><circle cx="2598.3" cy="521.6" r="6.2"/><circle cx="2603.3" cy="532.0" r="6.2"/><circle cx="2604.4" cy="882.4" r="6.2"/><circle cx="2605.6" cy="864.1" r="6.2"/><circle cx="2608.7" cy="553.3" r="6.2"/><circle cx="2608.7" cy="830.6" r="6.2"/><circle cx="2610.4" cy="747.7" r="6.2"/><circle cx="2610.7" cy="635.2" r="6.2"/><circle cx="2614.8" cy="511.8" r="6.2"/><circle cx="2616.4" cy="713.6" r="6.2"/><circle cx="2620.4" cy="635.1" r="6.2"/><circle cx="2620.8" cy="759.8" r="6.2"/><circle cx="2623.9" cy="574.6" r="6.2"/><circle cx="2625.3" cy="598.0" r="6.2"/><circle cx="2631.9" cy="731.4" r="6.2"/><circle cx="2634.3" cy="556.2" r="6.2"/><circle cx="2636.0" cy="873.0" r="6.2"/><circle cx="2636.1" cy="876.3" r="6.2"/><circle cx="2637.2" cy="725.2" r="6.2"/><circle cx="2639.1" cy="809.2" r="6.2"/><circle cx="2643.3" cy="633.9" r="6.2"/><circle cx="2645.2" cy="528.9" r="6.2"/><circle cx="2645.3" cy="725.8" r="6.2"/><circle cx="2646.6" cy="627.7" r="6.2"/><circle cx="2647.3" cy="767.7" r="6.2"/><circle cx="2651.5" cy="534.7" r="6.2"/><circle cx="2654.4" cy="833.6" r="6.2"/><circle cx="2654.8" cy="750.4" r="6.2"/><circle cx="2656.1" cy="601.5" r="6.2"/><circle cx="2656.5" cy="755.1" r="6.2"/><circle cx="2657.0" cy="282.0" r="6.2"/><circle cx="2657.0" cy="295.0" r="6.2"/><circle cx="2657.0" cy="371.0" r="6.2"/><circle cx="2657.0" cy="589.9" r="6.2"/><circle cx="2657.4" cy="373.5" r="6.2"/><circle cx="2657.8" cy="690.2" r="6.2"/><circle cx="2659.4" cy="536.6" r="6.2"/><circle cx="2659.9" cy="754.1" r="6.2"/><circle cx="2662.8" cy="541.2" r="6.2"/><circle cx="2665.7" cy="766.0" r="6.2"/><circle cx="2668.0" cy="612.0" r="6.2"/><circle cx="2668.0" cy="273.0" r="6.2"/><circle cx="2668.0" cy="201.0" r="6.2"/><circle cx="2668.5" cy="761.7" r="6.2"/><circle cx="2668.6" cy="274.6" r="6.2"/><circle cx="2669.4" cy="682.2" r="6.2"/><circle cx="2670.0" cy="832.0" r="6.2"/><circle cx="2671.0" cy="281.6" r="6.2"/><circle cx="2673.5" cy="756.6" r="6.2"/><circle cx="2673.7" cy="276.1" r="6.2"/><circle cx="2675.0" cy="200.0" r="6.2"/><circle cx="2677.5" cy="260.3" r="6.2"/><circle cx="2677.6" cy="641.9" r="6.2"/><circle cx="2678.1" cy="685.1" r="6.2"/><circle cx="2679.9" cy="216.7" r="6.2"/><circle cx="2680.0" cy="232.0" r="6.2"/><circle cx="2680.7" cy="708.2" r="6.2"/><circle cx="2681.7" cy="291.2" r="6.2"/><circle cx="2682.9" cy="672.2" r="6.2"/><circle cx="2683.0" cy="200.0" r="6.2"/><circle cx="2684.2" cy="291.5" r="6.2"/><circle cx="2685.4" cy="748.1" r="6.2"/><circle cx="2686.0" cy="864.0" r="6.2"/><circle cx="2686.4" cy="224.6" r="6.2"/><circle cx="2687.5" cy="693.1" r="6.2"/><circle cx="2688.2" cy="260.1" r="6.2"/><circle cx="2688.9" cy="230.9" r="6.2"/><circle cx="2689.0" cy="763.6" r="6.2"/><circle cx="2689.2" cy="636.9" r="6.2"/><circle cx="2692.0" cy="229.0" r="6.2"/><circle cx="2692.9" cy="221.7" r="6.2"/><circle cx="2693.4" cy="759.0" r="6.2"/><circle cx="2694.0" cy="211.0" r="6.2"/><circle cx="2694.0" cy="247.6" r="6.2"/><circle cx="2696.0" cy="841.0" r="6.2"/><circle cx="2697.2" cy="702.0" r="6.2"/><circle cx="2697.8" cy="274.1" r="6.2"/><circle cx="2698.3" cy="717.2" r="6.2"/><circle cx="2698.5" cy="213.7" r="6.2"/><circle cx="2698.8" cy="275.5" r="6.2"/><circle cx="2701.0" cy="288.0" r="6.2"/><circle cx="2702.1" cy="691.3" r="6.2"/><circle cx="2703.5" cy="295.1" r="6.2"/><circle cx="2704.3" cy="709.5" r="6.2"/><circle cx="2704.4" cy="367.3" r="6.2"/><circle cx="2704.7" cy="778.7" r="6.2"/><circle cx="2706.4" cy="300.1" r="6.2"/><circle cx="2707.6" cy="780.8" r="6.2"/><circle cx="2710.0" cy="253.0" r="6.2"/><circle cx="2711.0" cy="356.8" r="6.2"/><circle cx="2711.2" cy="697.1" r="6.2"/><circle cx="2711.9" cy="293.2" r="6.2"/><circle cx="2712.5" cy="768.0" r="6.2"/><circle cx="2715.0" cy="832.0" r="6.2"/><circle cx="2716.3" cy="286.9" r="6.2"/><circle cx="2716.7" cy="641.2" r="6.2"/><circle cx="2717.5" cy="212.0" r="6.2"/><circle cx="2720.0" cy="190.0" r="6.2"/><circle cx="2721.0" cy="769.3" r="6.2"/><circle cx="2721.2" cy="237.8" r="6.2"/><circle cx="2721.8" cy="732.4" r="6.2"/><circle cx="2723.8" cy="227.8" r="6.2"/><circle cx="2723.9" cy="675.9" r="6.2"/><circle cx="2724.0" cy="192.0" r="6.2"/><circle cx="2725.8" cy="247.2" r="6.2"/><circle cx="2726.5" cy="763.5" r="6.2"/><circle cx="2730.0" cy="299.2" r="6.2"/><circle cx="2730.0" cy="698.2" r="6.2"/><circle cx="2731.4" cy="211.1" r="6.2"/><circle cx="2732.6" cy="694.8" r="6.2"/><circle cx="2733.4" cy="251.9" r="6.2"/><circle cx="2735.0" cy="187.0" r="6.2"/><circle cx="2735.3" cy="696.5" r="6.2"/><circle cx="2736.0" cy="851.0" r="6.2"/><circle cx="2737.9" cy="213.8" r="6.2"/><circle cx="2738.4" cy="787.6" r="6.2"/><circle cx="2739.0" cy="867.0" r="6.2"/><circle cx="2739.6" cy="247.5" r="6.2"/><circle cx="2740.7" cy="651.6" r="6.2"/><circle cx="2740.8" cy="230.6" r="6.2"/><circle cx="2741.0" cy="190.0" r="6.2"/><circle cx="2742.1" cy="356.7" r="6.2"/><circle cx="2742.4" cy="689.4" r="6.2"/><circle cx="2742.6" cy="322.8" r="6.2"/><circle cx="2745.9" cy="714.2" r="6.2"/><circle cx="2747.0" cy="312.0" r="6.2"/><circle cx="2747.4" cy="317.8" r="6.2"/><circle cx="2749.0" cy="770.5" r="6.2"/><circle cx="2750.8" cy="376.2" r="6.2"/><circle cx="2750.9" cy="668.1" r="6.2"/><circle cx="2751.0" cy="862.0" r="6.2"/><circle cx="2751.1" cy="310.3" r="6.2"/><circle cx="2752.3" cy="244.9" r="6.2"/><circle cx="2752.7" cy="663.8" r="6.2"/><circle cx="2753.9" cy="260.2" r="6.2"/><circle cx="2754.9" cy="654.9" r="6.2"/><circle cx="2755.0" cy="188.0" r="6.2"/><circle cx="2757.3" cy="241.4" r="6.2"/><circle cx="2757.9" cy="648.4" r="6.2"/><circle cx="2758.3" cy="270.1" r="6.2"/><circle cx="2759.7" cy="750.7" r="6.2"/><circle cx="2760.0" cy="190.0" r="6.2"/><circle cx="2760.1" cy="264.0" r="6.2"/><circle cx="2760.3" cy="676.3" r="6.2"/><circle cx="2761.4" cy="259.6" r="6.2"/><circle cx="2761.7" cy="741.0" r="6.2"/><circle cx="2761.7" cy="224.2" r="6.2"/><circle cx="2762.4" cy="292.4" r="6.2"/><circle cx="2762.6" cy="719.8" r="6.2"/><circle cx="2765.0" cy="200.0" r="6.2"/><circle cx="2765.0" cy="819.0" r="6.2"/><circle cx="2766.0" cy="661.3" r="6.2"/><circle cx="2766.3" cy="239.8" r="6.2"/><circle cx="2767.9" cy="708.3" r="6.2"/><circle cx="2767.9" cy="226.0" r="6.2"/><circle cx="2768.9" cy="298.1" r="6.2"/><circle cx="2769.3" cy="705.4" r="6.2"/><circle cx="2769.6" cy="680.4" r="6.2"/><circle cx="2770.0" cy="203.0" r="6.2"/><circle cx="2770.1" cy="233.3" r="6.2"/><circle cx="2770.8" cy="804.5" r="6.2"/><circle cx="2773.3" cy="209.9" r="6.2"/><circle cx="2776.0" cy="849.0" r="6.2"/><circle cx="2776.5" cy="661.5" r="6.2"/><circle cx="2776.8" cy="221.4" r="6.2"/><circle cx="2777.0" cy="732.4" r="6.2"/><circle cx="2778.0" cy="224.0" r="6.2"/><circle cx="2778.3" cy="270.6" r="6.2"/><circle cx="2779.5" cy="686.0" r="6.2"/><circle cx="2781.8" cy="233.4" r="6.2"/><circle cx="2781.9" cy="262.7" r="6.2"/><circle cx="2782.2" cy="757.6" r="6.2"/><circle cx="2784.0" cy="803.0" r="6.2"/><circle cx="2784.7" cy="228.0" r="6.2"/><circle cx="2785.0" cy="679.9" r="6.2"/><circle cx="2786.1" cy="694.6" r="6.2"/><circle cx="2786.1" cy="282.2" r="6.2"/><circle cx="2787.0" cy="175.0" r="6.2"/><circle cx="2787.8" cy="288.9" r="6.2"/><circle cx="2788.9" cy="740.3" r="6.2"/><circle cx="2790.0" cy="217.0" r="6.2"/><circle cx="2790.8" cy="665.4" r="6.2"/><circle cx="2791.4" cy="219.2" r="6.2"/><circle cx="2791.7" cy="755.0" r="6.2"/><circle cx="2792.0" cy="174.0" r="6.2"/><circle cx="2793.7" cy="283.0" r="6.2"/><circle cx="2794.0" cy="748.7" r="6.2"/><circle cx="2795.0" cy="194.6" r="6.2"/><circle cx="2795.1" cy="817.6" r="6.2"/><circle cx="2798.0" cy="180.0" r="6.2"/><circle cx="2798.6" cy="287.7" r="6.2"/><circle cx="2799.9" cy="681.6" r="6.2"/><circle cx="2800.8" cy="261.9" r="6.2"/><circle cx="2802.8" cy="316.5" r="6.2"/><circle cx="2803.0" cy="237.0" r="6.2"/><circle cx="2803.0" cy="828.0" r="6.2"/><circle cx="2806.0" cy="393.0" r="6.2"/><circle cx="2806.2" cy="733.4" r="6.2"/><circle cx="2807.4" cy="272.0" r="6.2"/><circle cx="2807.9" cy="693.9" r="6.2"/><circle cx="2808.0" cy="330.0" r="6.2"/><circle cx="2808.0" cy="345.0" r="6.2"/><circle cx="2808.2" cy="266.6" r="6.2"/><circle cx="2809.5" cy="771.6" r="6.2"/><circle cx="2809.5" cy="759.5" r="6.2"/></g>
<rect x="1722.5" y="139.5" width="1127.0" height="1007.0" fill="none" stroke="#000" stroke-width="3"/>
<line x1="1765.50" y1="1146.50" x2="1765.50" y2="1176.50" stroke="#000" stroke-width="3" stroke-linecap="round" />
<text x="1765.50" y="1255.20" text-anchor="middle" font-weight="normal" font-size="51">1990</text>
<line x1="1939.83" y1="1146.50" x2="1939.83" y2="1176.50" stroke="#000" stroke-width="3" stroke-linecap="round" />
<text x="1939.83" y="1255.20" text-anchor="middle" font-weight="normal" font-size="51">1995</text>
<line x1="2114.17" y1="1146.50" x2="2114.17" y2="1176.50" stroke="#000" stroke-width="3" stroke-linecap="round" />
<text x="2114.17" y="1255.20" text-anchor="middle" font-weight="normal" font-size="51">2000</text>
<line x1="2288.50" y1="1146.50" x2="2288.50" y2="1176.50" stroke="#000" stroke-width="3" stroke-linecap="round" />
<text x="2288.50" y="1255.20" text-anchor="middle" font-weight="normal" font-size="51">2005</text>
<line x1="2462.83" y1="1146.50" x2="2462.83" y2="1176.50" stroke="#000" stroke-width="3" stroke-linecap="round" />
<text x="2462.83" y="1255.20" text-anchor="middle" font-weight="normal" font-size="51">2010</text>
<line x1="2637.17" y1="1146.50" x2="2637.17" y2="1176.50" stroke="#000" stroke-width="3" stroke-linecap="round" />
<text x="2637.17" y="1255.20" text-anchor="middle" font-weight="normal" font-size="51">2015</text>
<line x1="2811.50" y1="1146.50" x2="2811.50" y2="1176.50" stroke="#000" stroke-width="3" stroke-linecap="round" />
<text x="2811.50" y="1255.20" text-anchor="middle" font-weight="normal" font-size="51">2020</text>
<line x1="1722.50" y1="236.50" x2="1692.50" y2="236.50" stroke="#000" stroke-width="3" stroke-linecap="round" />
<text x="1651.00" y="236.50" text-anchor="middle" font-weight="normal" font-size="51" transform="rotate(-90 1651.00 236.50)">-480</text>
<line x1="1722.50" y1="418.75" x2="1692.50" y2="418.75" stroke="#000" stroke-width="3" stroke-linecap="round" />
<text x="1651.00" y="418.75" text-anchor="middle" font-weight="normal" font-size="51" transform="rotate(-90 1651.00 418.75)">-490</text>
<line x1="1722.50" y1="601.00" x2="1692.50" y2="601.00" stroke="#000" stroke-width="3" stroke-linecap="round" />
<text x="1651.00" y="601.00" text-anchor="middle" font-weight="normal" font-size="51" transform="rotate(-90 1651.00 601.00)">-500</text>
<line x1="1722.50" y1="783.25" x2="1692.50" y2="783.25" stroke="#000" stroke-width="3" stroke-linecap="round" />
<text x="1651.00" y="783.25" text-anchor="middle" font-weight="normal" font-size="51" transform="rotate(-90 1651.00 783.25)">-510</text>
<line x1="1722.50" y1="965.50" x2="1692.50" y2="965.50" stroke="#000" stroke-width="3" stroke-linecap="round" />
<text x="1651.00" y="965.50" text-anchor="middle" font-weight="normal" font-size="51" transform="rotate(-90 1651.00 965.50)">-520</text>
<line x1="1748.00" y1="863.50" x2="2794.00" y2="536.00" stroke="#000" stroke-width="8.3" stroke-linecap="round" />
<circle cx="1746.9" cy="434.9" r="12" fill="#000"/>
<circle cx="1781.7" cy="735.8" r="12" fill="#000"/>
<circle cx="1816.8" cy="815.8" r="12" fill="#000"/>
<circle cx="1851.7" cy="764.7" r="12" fill="#000"/>
<circle cx="1886.7" cy="774.7" r="12" fill="#000"/>
<circle cx="1922" cy="826.8" r="12" fill="#000"/>
<circle cx="1955.8" cy="777.6" r="12" fill="#000"/>
<circle cx="1990.8" cy="847.6" r="12" fill="#000"/>
<circle cx="2026" cy="741.9" r="12" fill="#000"/>
<circle cx="2060.9" cy="765.5" r="12" fill="#000"/>
<circle cx="2095.7" cy="879.5" r="12" fill="#000"/>
<circle cx="2130.6" cy="837" r="12" fill="#000"/>
<circle cx="2166" cy="863.9" r="12" fill="#000"/>
<circle cx="2200.9" cy="713.1" r="12" fill="#000"/>
<circle cx="2235" cy="726.8" r="12" fill="#000"/>
<circle cx="2269.4" cy="683.7" r="12" fill="#000"/>
<circle cx="2304.6" cy="716.9" r="12" fill="#000"/>
<circle cx="2340" cy="665.5" r="12" fill="#000"/>
<circle cx="2374.9" cy="647.6" r="12" fill="#000"/>
<circle cx="2409.9" cy="652.4" r="12" fill="#000"/>
<circle cx="2444.7" cy="692.8" r="12" fill="#000"/>
<circle cx="2480.2" cy="629.3" r="12" fill="#000"/>
<circle cx="2514.8" cy="637.9" r="12" fill="#000"/>
<circle cx="2584.1" cy="668.1" r="12" fill="#000"/>
<circle cx="2619" cy="723.2" r="12" fill="#000"/>
<circle cx="2653.6" cy="664.6" r="12" fill="#000"/>
<circle cx="2689" cy="524.4" r="12" fill="#000"/>
<circle cx="2724" cy="537.8" r="12" fill="#000"/>
<circle cx="2758.6" cy="460.9" r="12" fill="#000"/>
<circle cx="2794" cy="502.6" r="12" fill="#000"/>
<path d="M1744.5,159.5 L1744.5,339.5 L2242.5,339.5 L2242.5,159.5 Z" fill="none" stroke="#000" stroke-width="3" stroke-dasharray="12 12" stroke-linecap="round"/>
<line x1="1790.50" y1="219.30" x2="1878.50" y2="219.30" stroke="#FFA500" stroke-width="5.6" stroke-linecap="round" />
<line x1="1790.50" y1="279.20" x2="1878.50" y2="279.20" stroke="#000" stroke-width="5.6" stroke-linecap="round" />
<text id="legRaw" x="1923.20" y="238.10" text-anchor="start" font-weight="normal" font-size="51" textLength="210.43" lengthAdjust="spacing">Raw data</text>
<text id="legAnn" x="1924.00" y="297.70" text-anchor="start" font-weight="normal" font-size="51" textLength="295.51" lengthAdjust="spacing">Annual mean</text>
<text id="trendL" x="793.40" y="1026.40" text-anchor="start" font-weight="normal" font-size="51" textLength="542.93" lengthAdjust="spacing">Trend = 0.82 (0.11) m/yr</text>
<text id="rsqL" x="792.90" y="1085.50" text-anchor="start" font-weight="normal" font-size="51" textLength="261.49" lengthAdjust="spacing">R-sq = 0.88</text>
<text id="trendR" x="2289.60" y="1026.40" text-anchor="start" font-weight="normal" font-size="51" textLength="514.97" lengthAdjust="spacing">Trend = 0.6 (0.07) m/yr</text>
<text id="rsqR" x="2288.00" y="1085.50" text-anchor="start" font-weight="normal" font-size="51" textLength="261.70" lengthAdjust="spacing">R-sq = 0.72</text>
<text id="titleL" x="806.30" y="65.00" text-anchor="middle" font-weight="bold" font-size="51" textLength="478.21" lengthAdjust="spacing">(a) Site #1 Aquitaine</text>
<text id="titleR" x="2276.40" y="65.00" text-anchor="middle" font-weight="bold" font-size="51" textLength="478.21" lengthAdjust="spacing">(b) Site #2 Castellón</text>
<text id="yearsL" x="815.90" y="1375.00" text-anchor="middle" font-weight="normal" font-size="51" textLength="132.39" lengthAdjust="spacing">Years</text>
<text id="yearsR" x="2283.80" y="1375.00" text-anchor="middle" font-weight="normal" font-size="51" textLength="132.18" lengthAdjust="spacing">Years</text>
<text id="ylabL" x="62.00" y="641.50" text-anchor="middle" font-weight="normal" font-size="51" transform="rotate(-90 62.00 641.50)" textLength="529.53" lengthAdjust="spacing">Shoreline change [in m]</text>
<text id="ylabR" x="1530.00" y="641.50" text-anchor="middle" font-weight="normal" font-size="51" transform="rotate(-90 1530.00 641.50)" textLength="529.53" lengthAdjust="spacing">Shoreline change [in m]</text>
</svg>
</body></html>
